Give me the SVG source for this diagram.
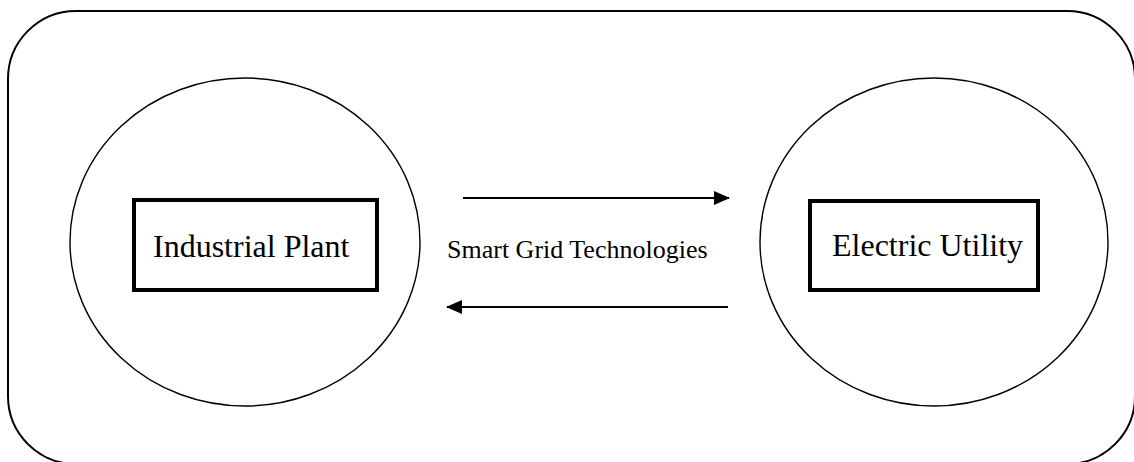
<svg xmlns="http://www.w3.org/2000/svg" width="1134" height="462" viewBox="0 0 1134 462">
  <style>
    .frame { fill: none; stroke: #000; stroke-width: 2; }
    .ring { fill: none; stroke: #000; stroke-width: 1.4; }
    .box { fill: #fff; stroke: #000; stroke-width: 4; }
    .label { font-family: "Liberation Serif", "Times New Roman", serif; fill: #000; }
    .big { font-size: 32px; }
    .small { font-size: 26px; }
    .flow { stroke: #000; stroke-width: 2; fill: none; }
  </style>
  <defs>
    <marker id="head" markerWidth="16" markerHeight="14" refX="15" refY="7" orient="auto" markerUnits="userSpaceOnUse">
      <path d="M0,0 L16,7 L0,14 Z" fill="#000"/>
    </marker>
  </defs>
  <rect width="1134" height="462" fill="#fff"/>

  <!-- outer system boundary -->
  <rect class="frame" x="8" y="11" width="1127" height="453" rx="68" ry="68"/>

  <g id="industrial-plant">
    <ellipse class="ring" cx="245" cy="242" rx="175" ry="164"/>
    <rect class="box" x="134" y="200" width="243" height="90"/>
    <text class="label big" x="153" y="257">Industrial Plant</text>
  </g>

  <g id="electric-utility">
    <ellipse class="ring" cx="934" cy="242" rx="174" ry="164"/>
    <rect class="box" x="810" y="201" width="228" height="89"/>
    <text class="label big" x="832" y="256">Electric Utility</text>
  </g>

  <g id="connectors">
    <line class="flow" x1="463" y1="198" x2="729" y2="198" marker-end="url(#head)"/>
    <line class="flow" x1="728" y1="307" x2="447" y2="307" marker-end="url(#head)"/>
    <text class="label small" x="447" y="258">Smart Grid Technologies</text>
  </g>
</svg>
